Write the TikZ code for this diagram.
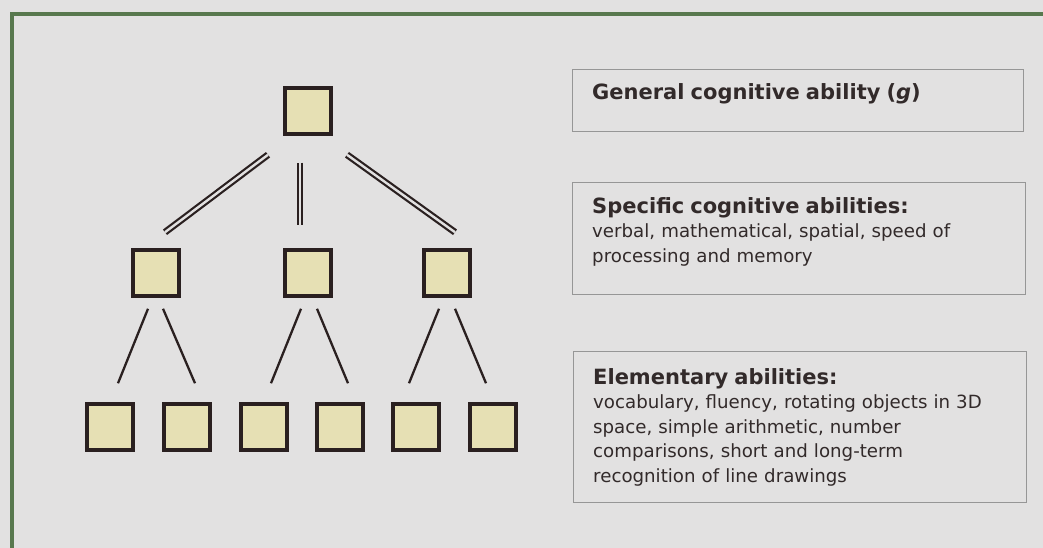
\documentclass[tikz,border=0pt]{standalone}
\usepackage{fontspec}
\setmainfont{DejaVu Sans}
\usetikzlibrary{calc}
\definecolor{pagebg}{RGB}{226,225,225}
\definecolor{framegreen}{RGB}{88,120,78}
\definecolor{boxfill}{RGB}{230,224,180}
\definecolor{boxline}{RGB}{42,32,32}
\definecolor{infoline}{RGB}{150,150,150}
\definecolor{inktext}{RGB}{50,42,42}
\tikzset{
x=1pt, y=-1pt, % pixel grid of the reference, y downwards
ability/.style={draw=boxline, fill=boxfill, line width=3.5pt, minimum size=46pt, inner sep=0pt}, % the small squares
link/.style={draw=boxline, line width=2.3pt}, % single line between levels
dlink/.style={draw=boxline, line width=2.2pt, double=pagebg, double distance=2.4pt}, % double line from g
infobox/.style={draw=infoline, line width=1pt, anchor=north west, inner sep=0pt},
infotext/.style={anchor=base west, align=left, text width=425pt, inner sep=0pt, text=inktext, font=\fontsize{18.2}{24.5}\selectfont},
}
\newcommand{\boxhead}[1]{{\fontsize{21}{24.5}\selectfont\bfseries #1}}
\begin{document}
\begin{tikzpicture}
\useasboundingbox[fill=pagebg] (0,0) rectangle (1043,548);
\draw[framegreen, line width=3.2pt] (12,548) -- (12,14) -- (1043,14);

% the hierarchy
\node[ability] (g) at (308,111) {};
\node[ability] (m1) at (156,273) {};
\node[ability] (m2) at (308,273) {};
\node[ability] (m3) at (447,273) {};
\foreach \i/\x in {1/110, 2/187, 3/264, 4/340, 5/416, 6/493}
  \node[ability] (b\i) at (\x,427) {};

\draw[dlink] ($(g.south)+(-40,19)$) -- ($(m1.north)+(9,-16)$);
\draw[dlink] ($(g.south)+(-8,27)$) -- ($(m2.north)+(-8,-23)$);
\draw[dlink] ($(g.south)+(39,19)$) -- ($(m3.north)+(8,-16)$);

\foreach \m/\b/\s/\e in {m1/b1/-8/8, m1/b2/7/8, m2/b3/-7/7, m2/b4/9/8, m3/b5/-8/-7, m3/b6/8/-7}
  \draw[link] ($(\m.south)+(\s,11)$) -- ($(\b.north)+(\e,-19)$);

% the explanations
\node[infobox, minimum width=451pt, minimum height=62pt] (gen) at (572,69) {};
\node[infotext] at ([xshift=20pt, yshift=-31pt]gen.north west)
  {\boxhead{General cognitive ability (\textit{g})}};

\node[infobox, minimum width=453pt, minimum height=112pt] (spec) at (572,182) {};
\node[infotext] at ([xshift=20pt, yshift=-31pt]spec.north west)
  {\boxhead{Specific cognitive abilities:}\\
   verbal, mathematical, spatial, speed of\\
   processing and memory};

\node[infobox, minimum width=453pt, minimum height=151pt] (elem) at (573,351) {};
\node[infotext] at ([xshift=20pt, yshift=-33pt]elem.north west)
  {\boxhead{Elementary abilities:}\\
   vocabulary, fluency, rotating objects in 3D\\
   space, simple arithmetic, number\\
   comparisons, short and long-term\\
   recognition of line drawings};
\end{tikzpicture}
\end{document}
